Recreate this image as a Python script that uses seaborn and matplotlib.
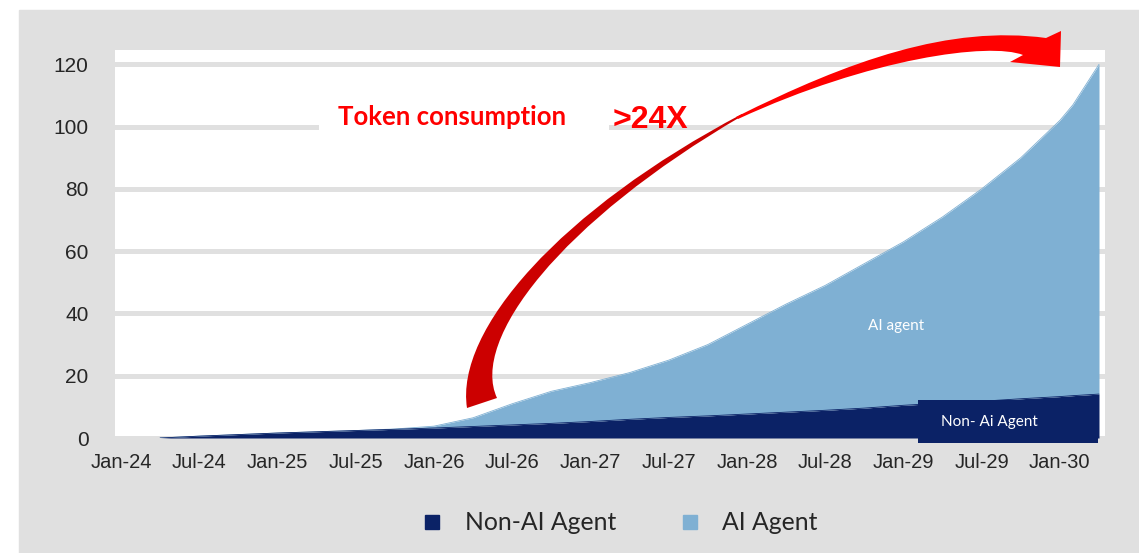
import matplotlib.pyplot as plt
import matplotlib.patches as mpatches
from matplotlib.path import Path
from matplotlib.lines import Line2D
import numpy as np
import pandas as pd
import seaborn as sns

# quarterly points (plus the last two months of the forecast)
periods = ["2024-04", "2024-07", "2024-10", "2025-01", "2025-04", "2025-07", "2025-10",
           "2026-01", "2026-04", "2026-07", "2026-10", "2027-01", "2027-04", "2027-07",
           "2027-10", "2028-01", "2028-04", "2028-07", "2028-10", "2029-01", "2029-04",
           "2029-07", "2029-10", "2030-01", "2030-02", "2030-04"]
non_ai_agent = [0.0, 0.6, 1.1, 1.6, 2.0, 2.4, 2.8, 3.2, 3.7, 4.2, 4.7, 5.3, 6.0, 6.6,
                7.1, 7.7, 8.3, 8.9, 9.6, 10.5, 11.2, 11.8, 12.6, 13.3, 13.6, 14.1]
ai_agent = [0.0, 0.0, 0.0, 0.0, 0.0, 0.0, 0.1, 0.6, 2.8, 6.8, 10.3, 12.5, 15.0, 18.4,
            22.9, 28.8, 34.7, 40.1, 46.4, 52.5, 59.8, 68.2, 77.4, 88.7, 93.4, 105.9]
tick_labels = ["Jan-24", "Jul-24", "Jan-25", "Jul-25", "Jan-26", "Jul-26", "Jan-27",
               "Jul-27", "Jan-28", "Jul-28", "Jan-29", "Jul-29", "Jan-30"]
y_ticks = [0, 20, 40, 60, 80, 100, 120]

NAVY = "#0b2266"
LIGHT = "#7fb0d3"
PANEL = "#e0e0e0"

dates = pd.to_datetime(periods)
df = pd.DataFrame({
    "month": (dates.year - 2024) * 12 + dates.month - 1,
    "non_ai": non_ai_agent,
    "ai": ai_agent,
})
df["total"] = df["non_ai"] + df["ai"]

sns.set_theme(style="white")
W, H = 1139, 553
fig = plt.figure(figsize=(W / 100, H / 100), dpi=100, facecolor="white")

# grey panel behind the plot
fig.patches.append(mpatches.Rectangle((19 / W, 0), 1 - 19 / W, 1 - 10 / H,
                                      transform=fig.transFigure, color=PANEL, zorder=-1))

ax = fig.add_axes([115 / W, 115 / H, 990 / W, 388 / H])
ax.set_facecolor("white")

ax.fill_between(df["month"], 0, df["non_ai"], color=NAVY, lw=0, zorder=3)
ax.fill_between(df["month"], df["non_ai"], df["total"], color=LIGHT, lw=0, zorder=3)
sns.lineplot(data=df, x="month", y="total", color=LIGHT, lw=0.6, ax=ax, zorder=3)
sns.lineplot(data=df, x="month", y="non_ai", color=NAVY, lw=0.6, ax=ax, zorder=3)

ax.set_xlim(-0.46, 75.46)
ax.set_ylim(0, 124.6)
ax.set_xticks(np.arange(len(tick_labels)) * 6)
ax.set_xticklabels(tick_labels, fontsize=14.5, family="Liberation Sans")
ax.set_yticks(y_ticks)
ax.set_yticklabels([str(v) for v in y_ticks], fontsize=15, family="Liberation Sans")
ax.tick_params(axis="y", length=0, pad=19)
ax.tick_params(axis="x", length=0, pad=11)
ax.set_xlabel("")
ax.set_ylabel("")
ax.yaxis.grid(True, color=PANEL, lw=3.6, zorder=0)
ax.set_axisbelow(True)
sns.despine(ax=ax, left=True, bottom=True)

# white box behind the title text (hides the 100 gridline)
ax.add_patch(mpatches.Rectangle((15.2, 97.0), 22.2, 10.5, color="white", lw=0, zorder=2))
ax.text(25.4, 100.5, "Token consumption", color="#ff0000", fontsize=18.5,
        fontweight="bold", family="Lato", ha="center", va="baseline", zorder=6)
ax.text(40.6, 99.6, ">24X", color="#ff0000", fontsize=23, fontweight="bold",
        family="Liberation Sans", ha="center", va="baseline", zorder=6)

# in-chart labels
ax.text(59.4, 36, "AI agent", color="white", fontsize=11, family="Lato",
        ha="center", va="center", zorder=5)
ax.add_patch(mpatches.Rectangle((61.1, -1.6), 13.8, 13.8, color=NAVY, lw=0,
                                clip_on=False, zorder=4))
ax.text(66.6, 5.1, "Non- Ai Agent", color="white", fontsize=11, family="Lato",
        ha="center", va="center", zorder=5)


def fig_path(segments):
    # segments: list of (code, [(x, y) pixel points]) -> Path in figure fraction
    verts, codes = [], []
    for code, pts in segments:
        for x, y in pts:
            verts.append((x / W, 1 - y / H))
            codes.append(code)
    verts.append(verts[0])
    codes.append(Path.CLOSEPOLY)
    return Path(verts, codes)


# curved red arrow: darker back ribbon, then bright front ribbon with the head
back = fig_path([
    (Path.MOVETO, [(467, 408)]),
    (Path.CURVE4, [(455, 330), (560, 210), (742, 114)]),
    (Path.LINETO, [(742, 116)]),
    (Path.CURVE4, [(560, 222), (470, 340), (497, 398)]),
])
front = fig_path([
    (Path.MOVETO, [(736, 117)]),
    (Path.CURVE4, [(850, 60), (950, 25), (1046, 38)]),
    (Path.LINETO, [(1061, 31), (1060, 67), (1010, 62), (1023, 55)]),
    (Path.CURVE4, [(990, 42), (870, 58), (738, 119)]),
])
fig.patches.append(mpatches.PathPatch(back, transform=fig.transFigure,
                                      color="#cc0000", lw=0, zorder=5))
fig.patches.append(mpatches.PathPatch(front, transform=fig.transFigure,
                                      color="#ff0000", lw=0, zorder=5))

handles = [Line2D([], [], marker="s", color=NAVY, ls="None", markersize=10),
           Line2D([], [], marker="s", color=LIGHT, ls="None", markersize=10)]
fig.legend(handles, ["Non-AI Agent", "AI Agent"], loc="center",
           bbox_to_anchor=(620 / W, 1 - 523 / H), ncol=2, frameon=False,
           prop={"family": "Lato", "size": 17.8}, handlelength=0.8,
           handletextpad=0.9, columnspacing=2.6)

fig.savefig("out.png", dpi=100, facecolor="white")
